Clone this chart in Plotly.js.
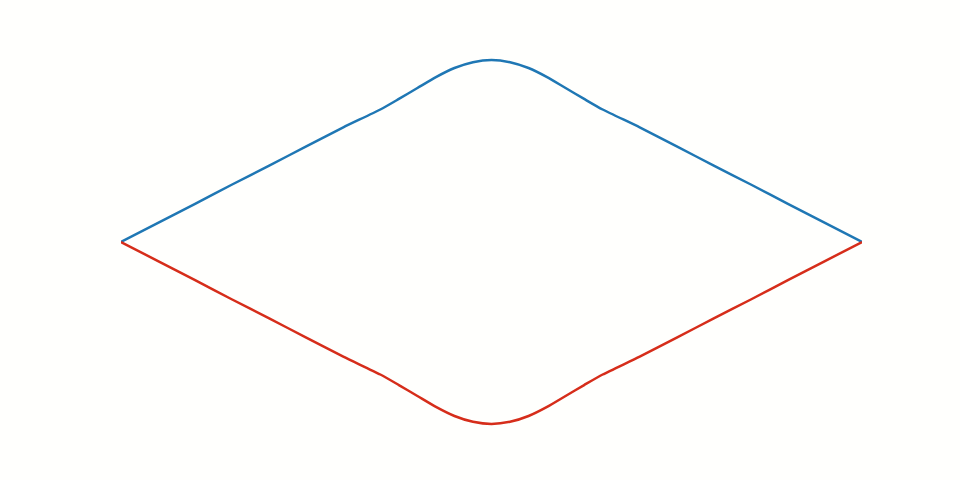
<!DOCTYPE html>
<html>
<head>
<meta charset="utf-8">
<script src="https://cdn.plot.ly/plotly-3.0.1.min.js"></script>
<style>html,body{margin:0;padding:0;background:#fffffd;}</style>
</head>
<body>
<div id="chart" style="width:960px;height:480px;"></div>
<script>
const xValues = [-1, -0.9, -0.8, -0.7, -0.6, -0.5, -0.4, -0.3, -0.25, -0.2, -0.15, -0.1, -0.05, 0,
                 0.05, 0.1, 0.15, 0.2, 0.25, 0.3, 0.4, 0.5, 0.6, 0.7, 0.8, 0.9, 1];
const upperValues = [0, 0.105, 0.21, 0.316, 0.42, 0.525, 0.63, 0.728, 0.786, 0.846, 0.906, 0.956, 0.988, 1,
                     0.988, 0.956, 0.906, 0.846, 0.786, 0.728, 0.63, 0.525, 0.42, 0.316, 0.21, 0.105, 0];
const lowerValues = [0, -0.105, -0.21, -0.316, -0.42, -0.525, -0.63, -0.728, -0.786, -0.846, -0.906, -0.956, -0.988, -1,
                     -0.988, -0.956, -0.906, -0.846, -0.786, -0.728, -0.63, -0.525, -0.42, -0.316, -0.21, -0.105, 0];

const traces = [
  {x: xValues, y: upperValues, mode: 'lines', line: {color: '#1f77b4', width: 2.5, shape: 'spline', smoothing: 0.6}, hoverinfo: 'skip'},
  {x: xValues, y: lowerValues, mode: 'lines', line: {color: '#d62d1a', width: 2.5, shape: 'spline', smoothing: 0.6}, hoverinfo: 'skip'}
];
const layout = {
  width: 960, height: 480,
  margin: {l: 121, r: 98, t: 42, b: 38},
  paper_bgcolor: '#fffffd', plot_bgcolor: '#fffffd',
  showlegend: false,
  xaxis: {range: [-1, 1], visible: false, showgrid: false, zeroline: false},
  yaxis: {range: [-1.0989, 1.0989], visible: false, showgrid: false, zeroline: false}
};
Plotly.newPlot('chart', traces, layout, {staticPlot: true, displayModeBar: false});
</script>
</body>
</html>
